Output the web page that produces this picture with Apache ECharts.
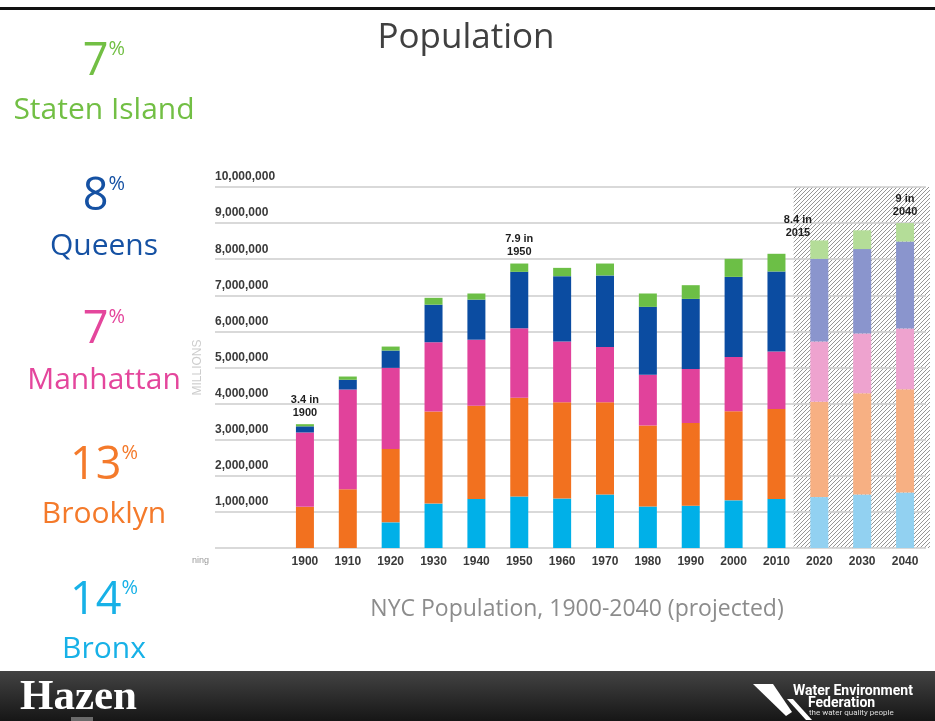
<!DOCTYPE html>
<html>
<head>
<meta charset="utf-8">
<script src="https://cdn.jsdelivr.net/npm/echarts@6/dist/echarts.min.js"></script>
<style>
html,body{margin:0;padding:0;background:#fff;}
#c{width:935px;height:721px;}
</style>
</head>
<body>
<div id="c"></div>
<script>
// ---------- data ----------
const years = ['1900','1910','1920','1930','1940','1950','1960','1970','1980','1990','2000','2010','2020','2030','2040'];
const projectedYears = ['2020','2030','2040'];
const bronx        = [0, 0, 710000, 1230000, 1360000, 1430000, 1370000, 1480000, 1150000, 1170000, 1320000, 1360000, 1410000, 1480000, 1540000];
const brooklyn     = [1140000, 1630000, 2030000, 2550000, 2580000, 2730000, 2670000, 2560000, 2240000, 2290000, 2470000, 2490000, 2640000, 2810000, 2860000];
const manhattan    = [2060000, 2760000, 2250000, 1920000, 1830000, 1930000, 1680000, 1530000, 1410000, 1500000, 1500000, 1590000, 1670000, 1650000, 1680000];
const queens       = [170000, 270000, 480000, 1040000, 1110000, 1560000, 1810000, 1980000, 1880000, 1940000, 2220000, 2220000, 2290000, 2340000, 2410000];
const statenIsland = [60000, 90000, 110000, 190000, 170000, 230000, 230000, 330000, 370000, 380000, 500000, 490000, 510000, 520000, 510000];

const yMin = 0, yMax = 10000000, yStep = 1000000;

const noteYears  = [1900, 1950, 2015, 2040];
const noteValues = [3430000, 7880000, 8400000, 9000000];
const noteTexts  = ['3.4 in\n1900', '7.9 in\n1950', '8.4 in\n2015', '9 in\n2040'];

const boroughNames  = ['Staten Island', 'Queens', 'Manhattan', 'Brooklyn', 'Bronx'];
const boroughShares = ['7', '8', '7', '13', '14'];

const chartTitle = 'Population';
const chartCaption = 'NYC Population, 1900-2040 (projected)';

// ---------- styles ----------
const seriesDefs = [
  {name: 'Bronx',         data: bronx,        color: '#00b0e8', light: '#92d1f1'},
  {name: 'Brooklyn',      data: brooklyn,     color: '#f2711f', light: '#f7b083'},
  {name: 'Manhattan',     data: manhattan,    color: '#e1429b', light: '#eea3cf'},
  {name: 'Queens',        data: queens,       color: '#0b4ca1', light: '#8a95cd'},
  {name: 'Staten Island', data: statenIsland, color: '#6cbf46', light: '#b4dd98'}
];
const textColors = ['#72bf44', '#1551a3', '#e4469c', '#f47a2b', '#17b1e7'];
const leftCenterX = 104;
const shareY = [62, 197, 330, 466, 601];
const nameY  = [110, 246, 380, 514, 649];

const chart = echarts.init(document.getElementById('c'), null, {renderer: 'canvas'});

const gridTop = 187, gridBottom = 173;
const axisFont = 'Liberation Sans, Arial, sans-serif';
const option = {
  animation: false,
  backgroundColor: '#ffffff',
  grid: [
    {left: 215, right: 9, top: gridTop, bottom: gridBottom},
    {left: 283.5, right: 8.5, top: gridTop, bottom: gridBottom}
  ],
  xAxis: [
    {gridIndex: 0, type: 'value', show: false, min: 0, max: 1},
    {
      gridIndex: 1, type: 'category', data: years,
      axisLine: {show: false}, axisTick: {show: false},
      axisLabel: {margin: 8, color: '#3a3a3a', fontSize: 12, fontWeight: 'bold', fontFamily: axisFont}
    }
  ],
  yAxis: [
    {
      gridIndex: 0, type: 'value', min: yMin, max: yMax, interval: yStep,
      axisLine: {show: false}, axisTick: {show: false},
      splitLine: {show: true, lineStyle: {color: '#cdcdcd', width: 1.5}},
      axisLabel: {
        inside: true, margin: 0, showMinLabel: false,
        verticalAlign: 'bottom', padding: [0, 0, 4, 0],
        color: '#3a3a3a', fontSize: 12, fontWeight: 'bold', fontFamily: axisFont,
        formatter: v => v.toLocaleString('en-US')
      },
      name: 'MILLIONS', nameLocation: 'middle', nameRotate: 90, nameGap: 9,
      nameTextStyle: {color: '#cdcdcd', fontSize: 12, fontFamily: axisFont}
    },
    {gridIndex: 1, type: 'value', min: yMin, max: yMax, interval: yStep, show: false, splitLine: {show: false}}
  ],
  series: seriesDefs.map(s => ({
    name: s.name, type: 'bar', stack: 'total', xAxisIndex: 1, yAxisIndex: 1,
    barWidth: 18, z: 5,
    data: s.data.map((v, i) => ({
      value: v,
      itemStyle: {color: projectedYears.includes(years[i]) ? s.light : s.color}
    }))
  }))
};
chart.setOption(option);

// ---------- pattern for projected area ----------
function hatchPattern() {
  const c = document.createElement('canvas');
  const s = 4;
  c.width = s; c.height = s;
  const g = c.getContext('2d');
  g.fillStyle = '#ffffff';
  g.fillRect(0, 0, s, s);
  g.strokeStyle = '#969696';
  g.lineWidth = 1;
  g.beginPath();
  g.moveTo(-1, s + 1); g.lineTo(s + 1, -1);
  g.moveTo(-1, 1); g.lineTo(1, -1);
  g.moveTo(s - 1, s + 1); g.lineTo(s + 1, s - 1);
  g.stroke();
  return c;
}

const xOfCat = y => chart.convertToPixel({xAxisIndex: 1}, y);
const yOfVal = v => chart.convertToPixel({yAxisIndex: 1}, v);
const band = xOfCat(years[1]) - xOfCat(years[0]);
const xOfYear = yr => xOfCat(years[0]) + (yr - Number(years[0])) / 10 * band;

const hatchLeft = xOfYear(2014);
const hatchTop = yOfVal(yMax);
const hatchBottom = yOfVal(yMin);
const hatchRight = 930;

const graphics = [];
// top rule
graphics.push({type: 'rect', shape: {x: 0, y: 7, width: 935, height: 3}, style: {fill: '#111'}, z: 10});
// hatch
graphics.push({
  type: 'rect', z: -1,
  shape: {x: hatchLeft, y: hatchTop, width: hatchRight - hatchLeft, height: hatchBottom - hatchTop},
  style: {fill: {image: hatchPattern(), repeat: 'repeat'}}
});
// title & caption
graphics.push({type: 'text', x: 466, y: 38, style: {text: chartTitle, fill: '#404040', font: '35px "Open Sans", sans-serif', textAlign: 'center', textVerticalAlign: 'middle'}});
graphics.push({type: 'text', x: 577, y: 609, style: {text: chartCaption, fill: '#8c8c8c', font: '23px "Open Sans", sans-serif', textAlign: 'center', textVerticalAlign: 'middle'}});
// cropped stray label
graphics.push({type: 'text', x: 192, y: 561, style: {text: 'ning', fill: '#9a9a9a', font: '9px "Liberation Sans", sans-serif', textAlign: 'left', textVerticalAlign: 'middle'}});

// annotations
noteYears.forEach((yr, i) => {
  graphics.push({
    type: 'text', z: 20, x: xOfYear(yr), y: yOfVal(noteValues[i]) - 5,
    style: {text: noteTexts[i], fill: '#1e1e1e', font: 'bold 11px "Liberation Sans", Arial, sans-serif', lineHeight: 13, textAlign: 'center', textVerticalAlign: 'bottom'}
  });
});

// left borough shares
boroughNames.forEach((nm, i) => {
  graphics.push({
    type: 'text', x: leftCenterX, y: shareY[i],
    style: {
      text: '{n|' + boroughShares[i] + '}{p|%}',
      textAlign: 'center', textVerticalAlign: 'middle',
      rich: {
        n: {fontSize: 45, lineHeight: 45, fontFamily: 'Open Sans', fill: textColors[i]},
        p: {fontSize: 20, lineHeight: 20, fontFamily: 'Open Sans', fill: textColors[i], verticalAlign: 'top'}
      }
    }
  });
  graphics.push({
    type: 'text', x: leftCenterX, y: nameY[i],
    style: {text: nm, fill: textColors[i], font: '30px "Open Sans", sans-serif', textAlign: 'center', textVerticalAlign: 'middle'}
  });
});

// footer
graphics.push({type: 'rect', shape: {x: 0, y: 671, width: 935, height: 50},
  style: {fill: new echarts.graphic.LinearGradient(0, 0, 0, 1, [{offset: 0, color: '#434343'}, {offset: 1, color: '#161616'}])}});
graphics.push({type: 'text', x: 20, y: 698, style: {text: 'Hazen', fill: '#ffffff', font: 'bold 43px "Liberation Serif", "DejaVu Serif", serif', textAlign: 'left', textVerticalAlign: 'middle'}});
graphics.push({type: 'rect', shape: {x: 71, y: 717, width: 22, height: 4}, style: {fill: '#6a6a6a'}});
graphics.push({type: 'polygon', shape: {points: [[753,684],[773,684],[792,712],[786,716]]}, style: {fill: '#ffffff'}});
graphics.push({type: 'polygon', shape: {points: [[787,699],[793,699],[812,720],[806,720]]}, style: {fill: '#ffffff'}});
graphics.push({type: 'text', x: 793, y: 691, style: {text: 'Water Environment', fill: '#fff', font: 'bold 14px "Liberation Sans Narrow", "Roboto", sans-serif', textAlign: 'left', textVerticalAlign: 'middle'}});
graphics.push({type: 'text', x: 808, y: 703, style: {text: 'Federation', fill: '#fff', font: 'bold 14px "Liberation Sans Narrow", "Roboto", sans-serif', textAlign: 'left', textVerticalAlign: 'middle'}});
graphics.push({type: 'text', x: 809, y: 713, style: {text: 'the water quality people', fill: '#ddd', font: '8px "Liberation Sans Narrow", "Roboto", sans-serif', textAlign: 'left', textVerticalAlign: 'middle'}});

chart.setOption({graphic: graphics});
</script>
</body>
</html>
